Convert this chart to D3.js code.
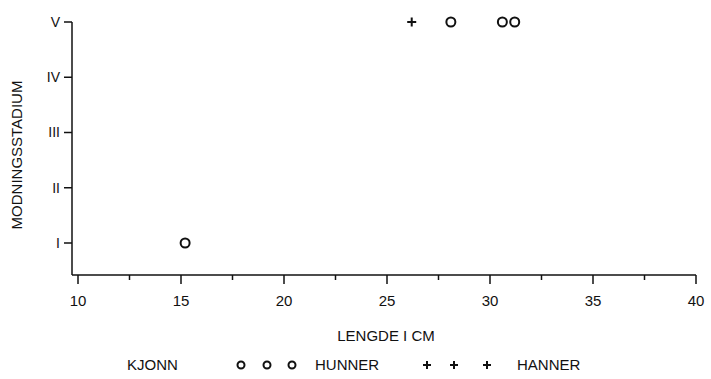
<!DOCTYPE html>
<html>
<head>
<meta charset="utf-8">
<script src="https://cdn.jsdelivr.net/npm/d3@7"></script>
<style>
    body { margin: 0; background: #fff; }
    svg text { font-family: "Liberation Sans", Arial, sans-serif; fill: #111; }
</style>
</head>
<body>
<div id="chart"></div>
<script>
// data
var stageLabels = ["I", "II", "III", "IV", "V"];
var xTicks = [10, 15, 20, 25, 30, 35, 40];
var xMinorTicks = [12.5, 17.5, 22.5, 27.5, 32.5, 37.5];
// hunner (circles)
var hunnerLength = [15.2, 28.1, 30.6, 31.2];
var hunnerStage = [1, 5, 5, 5];
// hanner (plus)
var hannerLength = [26.2];
var hannerStage = [5];

var width = 711, height = 379;
var svg = d3.select("#chart").append("svg")
    .attr("width", width)
    .attr("height", height);

var x = d3.scaleLinear().domain([10, 40]).range([78, 696]);
var y = d3.scaleLinear().domain([1, 5]).range([243, 22]);
var x0 = 72, yBottom = 275;

var ink = "#111";

// y axis
svg.append("line")
    .attr("x1", x0).attr("x2", x0)
    .attr("y1", y(5)).attr("y2", yBottom)
    .attr("stroke", ink).attr("stroke-width", 1.5);
stageLabels.forEach(function (lab, i) {
    var v = i + 1;
    svg.append("line")
        .attr("x1", x0 - 8).attr("x2", x0)
        .attr("y1", y(v)).attr("y2", y(v))
        .attr("stroke", ink).attr("stroke-width", 1.5);
    svg.append("text")
        .attr("x", x0 - 12).attr("y", y(v))
        .attr("dy", "0.35em")
        .attr("text-anchor", "end")
        .style("font-size", "14px")
        .text(lab);
});
svg.append("text")
    .attr("transform", "translate(22," + 155 + ") rotate(-90)")
    .attr("text-anchor", "middle")
    .style("font-size", "15px")
    .text("MODNINGSSTADIUM");

// x axis
svg.append("line")
    .attr("x1", x0).attr("x2", x(40))
    .attr("y1", yBottom).attr("y2", yBottom)
    .attr("stroke", ink).attr("stroke-width", 1.5);
xTicks.forEach(function (t) {
    svg.append("line")
        .attr("x1", x(t)).attr("x2", x(t))
        .attr("y1", yBottom).attr("y2", yBottom + 9)
        .attr("stroke", ink).attr("stroke-width", 1.5);
    svg.append("text")
        .attr("x", x(t)).attr("y", 306)
        .attr("text-anchor", "middle")
        .style("font-size", "15px")
        .text(t);
});
xMinorTicks.forEach(function (t) {
    svg.append("line")
        .attr("x1", x(t)).attr("x2", x(t))
        .attr("y1", yBottom).attr("y2", yBottom + 5)
        .attr("stroke", ink).attr("stroke-width", 1.5);
});
svg.append("text")
    .attr("x", 386).attr("y", 341)
    .attr("text-anchor", "middle")
    .style("font-size", "15px")
    .text("LENGDE I CM");

// points
function circleMark(g, cx, cy, r) {
    g.append("circle")
        .attr("cx", cx).attr("cy", cy).attr("r", r)
        .attr("fill", "none").attr("stroke", ink).attr("stroke-width", 2);
}
function plusMark(g, cx, cy, s) {
    g.append("path")
        .attr("d", "M" + (cx - s) + "," + cy + "H" + (cx + s) + "M" + cx + "," + (cy - s) + "V" + (cy + s))
        .attr("stroke", ink).attr("stroke-width", 2);
}
var pts = svg.append("g");
hunnerLength.forEach(function (l, i) {
    circleMark(pts, x(l), y(hunnerStage[i]), 4.5);
});
hannerLength.forEach(function (l, i) {
    plusMark(pts, x(l), y(hannerStage[i]), 4.5);
});

// legend
var ly = 365;
svg.append("text").attr("x", 127).attr("y", ly + 5)
    .style("font-size", "15px").text("KJONN");
[241, 267, 292].forEach(function (cx) { circleMark(svg, cx, ly, 3.5); });
svg.append("text").attr("x", 315).attr("y", ly + 5)
    .style("font-size", "15px").text("HUNNER");
[427, 454, 487].forEach(function (cx) { plusMark(svg, cx, ly, 4); });
svg.append("text").attr("x", 517).attr("y", ly + 5)
    .style("font-size", "15px").text("HANNER");
</script>
</body>
</html>
